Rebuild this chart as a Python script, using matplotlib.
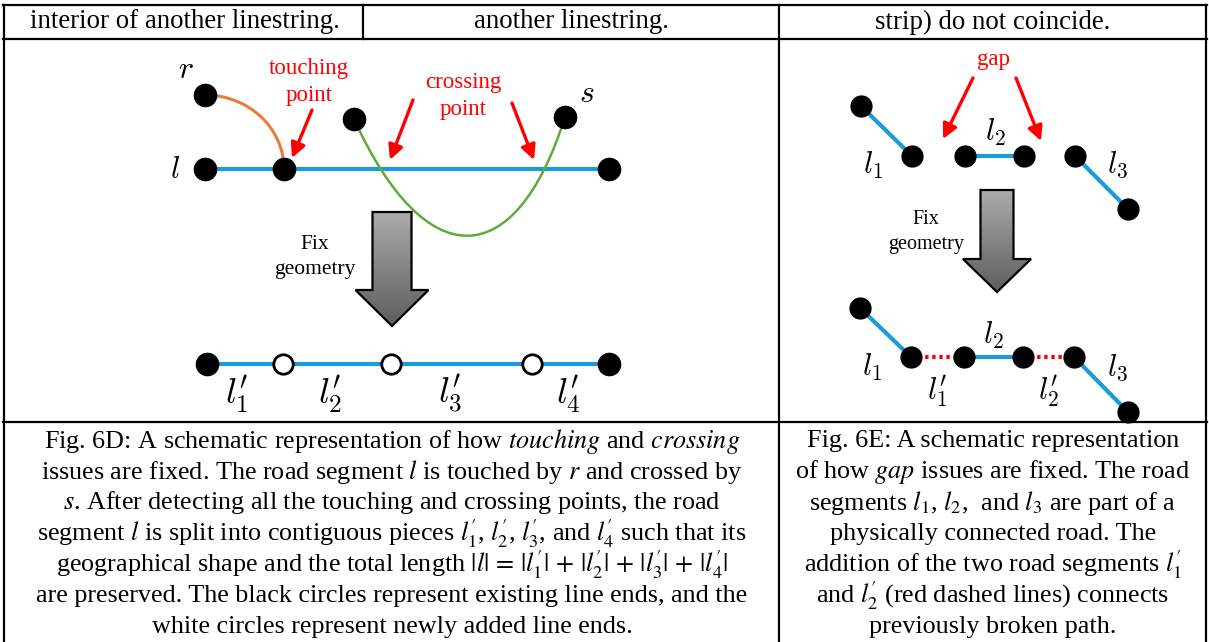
import numpy as np
import matplotlib
matplotlib.use("Agg")
from matplotlib import pyplot as plt
from matplotlib import patches
from matplotlib.path import Path
from matplotlib.colors import LinearSegmentedColormap

plt.rcParams['font.family'] = ['Liberation Serif', 'DejaVu Serif']

# header row texts (end of the previous table row)
header_texts = ["interior of another linestring.", "another linestring.", "strip) do not coincide."]
header_x = [185, 571, 993]

# --- panel D: touching / crossing ---
road_l_x = [205, 284, 609]
road_l_y = [169, 169, 169]
r_end = (205, 95)
s_ends_x = [354, 565]
s_ends_y = [119, 117]
s_curve_ctrl = [(354, 119), (425, 275), (515, 275), (565, 117)]
split_x = [207, 609]
split_new_x = [283, 391, 532]
split_y = 364
split_labels = [r"$l^{\prime}_{1}$", r"$l^{\prime}_{2}$", r"$l^{\prime}_{3}$", r"$l^{\prime}_{4}$"]
split_label_x = [237, 330, 450, 568]

# --- panel E: gap ---
gap_before = [[(861, 106), (912, 156)], [(965, 156), (1024, 156)], [(1075, 156), (1128, 209)]]
gap_after = [[(860, 308), (911, 357)], [(964, 357), (1023, 357)], [(1074, 357), (1128, 412)]]
gap_added = [[(911, 357), (964, 357)], [(1023, 357), (1074, 357)]]

caption_d = [
    r"Fig. 6D: A schematic representation of how $\mathit{touching}$ and $\mathit{crossing}$",
    r"issues are fixed. The road segment $l$ is touched by $r$ and crossed by",
    r"$s$. After detecting all the touching and crossing points, the road",
    r"segment $l$ is split into contiguous pieces $l^{\prime}_{1}$, $l^{\prime}_{2}$, $l^{\prime}_{3}$, and $l^{\prime}_{4}$ such that its",
    r"geographical shape and the total length $|l|\,=\,|l^{\prime}_{1}|\,+\,|l^{\prime}_{2}|\,+\,|l^{\prime}_{3}|\,+\,|l^{\prime}_{4}|$",
    r"are preserved. The black circles represent existing line ends, and the",
    r"white circles represent newly added line ends.",
]
caption_e = [
    r"Fig. 6E: A schematic representation",
    r"of how $\mathit{gap}$ issues are fixed. The road",
    r"segments $l_1$, $l_2$,  and $l_3$ are part of a",
    r"physically connected road. The",
    r"addition of the two road segments $l^{\prime}_{1}$",
    r"and $l^{\prime}_{2}$ (red dashed lines) connects",
    r"previously broken path.",
]
caption_y = [441, 472, 503, 534, 565, 596, 627]

BLUE = '#1b9bd7'
ORANGE = '#e97c3a'
GREEN = '#5fab3a'
TXT = 19.3
CAP = 18.8


def block_arrow(ax, cx, top, shaft_w, head_top, head_w, tip):
    pts = [(cx - shaft_w / 2, top), (cx + shaft_w / 2, top), (cx + shaft_w / 2, head_top),
           (cx + head_w / 2, head_top), (cx, tip), (cx - head_w / 2, head_top),
           (cx - shaft_w / 2, head_top)]
    poly = patches.Polygon(pts, closed=True, facecolor='none', edgecolor='black', lw=1.6, zorder=4)
    ax.add_patch(poly)
    cmap = LinearSegmentedColormap.from_list('g', ['#ababab', '#5e5e5e'])
    grad = np.linspace(0, 1, 100).reshape(-1, 1)
    im = ax.imshow(grad, extent=[cx - head_w / 2, cx + head_w / 2, tip, top], aspect='auto',
                   cmap=cmap, zorder=3)
    im.set_clip_path(poly)


def red_arrow(ax, start, end):
    ax.annotate("", xy=end, xytext=start,
                arrowprops=dict(arrowstyle='-|>', color='red', lw=2.4, mutation_scale=22,
                                shrinkA=0, shrinkB=0))


fig = plt.figure(figsize=(12.09, 6.42), dpi=100)
ax = fig.add_axes([0, 0, 1, 1])

# table frame
for y in [5, 39, 422]:
    ax.plot([3, 1207], [y, y], color='black', lw=1.6)
for x in [4, 779, 1206]:
    ax.plot([x, x], [5, 642], color='black', lw=1.6)
ax.plot([363, 363], [5, 39], color='black', lw=1.6)

for t, x in zip(header_texts, header_x):
    ax.text(x, 22, t, ha='center', va='center', fontsize=TXT)

# panel D top
ax.plot([road_l_x[0], road_l_x[-1]], [169, 169], color=BLUE, lw=3, zorder=2, solid_capstyle='butt')
ax.add_patch(patches.Arc((205, 169), 2 * 79, 2 * 74, theta1=-90, theta2=0, color=ORANGE, lw=2.2, zorder=2))
verts = s_curve_ctrl
ax.add_patch(patches.PathPatch(Path(verts, [Path.MOVETO, Path.CURVE4, Path.CURVE4, Path.CURVE4]),
                               facecolor='none', edgecolor=GREEN, lw=1.8, zorder=2))
ax.plot(road_l_x, road_l_y, 'o', color='black', ms=16, zorder=5)
ax.plot([r_end[0]], [r_end[1]], 'o', color='black', ms=16, zorder=5)
ax.plot(s_ends_x, s_ends_y, 'o', color='black', ms=16, zorder=5)

ax.text(186, 71, r"$r$", ha='center', va='center', fontsize=23, math_fontfamily='cm')
ax.text(587, 94, r"$s$", ha='center', va='center', fontsize=23, math_fontfamily='cm')
ax.text(175, 170, r"$l$", ha='center', va='center', fontsize=22, math_fontfamily='cm')

ax.text(309, 82, "touching\npoint", ha='center', va='center', color='red', fontsize=16.5, linespacing=1.35)
ax.text(463, 96, "crossing\npoint", ha='center', va='center', color='red', fontsize=16.5, linespacing=1.35)
red_arrow(ax, (312, 110), (292, 158))
red_arrow(ax, (413, 100), (390, 160))
red_arrow(ax, (512, 103), (534, 160))

block_arrow(ax, 392, 212, 39, 290, 73, 326)
ax.text(315, 257, "Fix\ngeometry", ha='center', va='center', fontsize=15.5, linespacing=1.45)

# panel D bottom
ax.plot([split_x[0], split_x[-1]], [split_y, split_y], color=BLUE, lw=3, zorder=2)
ax.plot(split_x, [split_y] * 2, 'o', color='black', ms=16, zorder=5)
ax.plot(split_new_x, [split_y] * 3, 'o', mfc='white', mec='black', mew=2, ms=14, zorder=5)
for lab, x in zip(split_labels, split_label_x):
    ax.text(x, 394, lab, ha='center', va='center', fontsize=26, math_fontfamily='cm')

# panel E top
for seg in gap_before:
    xs, ys = zip(*seg)
    ax.plot(xs, ys, color=BLUE, lw=3, zorder=2)
    ax.plot(xs, ys, 'o', color='black', ms=15, zorder=5)
ax.text(994, 60, "gap", ha='center', va='center', color='red', fontsize=16.5)
red_arrow(ax, (973, 78), (943, 139))
red_arrow(ax, (1016, 78), (1041, 141))
ax.text(873, 165, r"$l_1$", ha='center', va='center', fontsize=22, math_fontfamily='cm')
ax.text(995, 132, r"$l_2$", ha='center', va='center', fontsize=22, math_fontfamily='cm')
ax.text(1117, 165, r"$l_3$", ha='center', va='center', fontsize=22, math_fontfamily='cm')

block_arrow(ax, 997, 190, 33, 259, 68, 292)
ax.text(926, 232, "Fix\ngeometry", ha='center', va='center', fontsize=14.5, linespacing=1.45)

# panel E bottom
for seg in gap_added:
    xs, ys = zip(*seg)
    ax.plot(xs, ys, color='red', lw=3, ls=(0, (0.8, 0.9)), zorder=2)
for seg in gap_after:
    xs, ys = zip(*seg)
    ax.plot(xs, ys, color=BLUE, lw=3, zorder=2)
    ax.plot(xs, ys, 'o', color='black', ms=15, zorder=5)
ax.text(872, 367, r"$l_1$", ha='center', va='center', fontsize=22, math_fontfamily='cm')
ax.text(993, 335, r"$l_2$", ha='center', va='center', fontsize=22, math_fontfamily='cm')
ax.text(1117, 368, r"$l_3$", ha='center', va='center', fontsize=22, math_fontfamily='cm')
ax.text(937, 392, r"$l^{\prime}_{1}$", ha='center', va='center', fontsize=22, math_fontfamily='cm')
ax.text(1048, 392, r"$l^{\prime}_{2}$", ha='center', va='center', fontsize=22, math_fontfamily='cm')

# captions
for t, y in zip(caption_d, caption_y):
    ax.text(392, y, t, ha='center', va='center', fontsize=CAP, math_fontfamily='stix')
for t, y in zip(caption_e, caption_y):
    ax.text(993, y, t, ha='center', va='center', fontsize=CAP, math_fontfamily='stix')

ax.set_xlim(0, 1209)
ax.set_ylim(642, 0)
ax.axis('off')
fig.savefig("out.png", dpi=100)
